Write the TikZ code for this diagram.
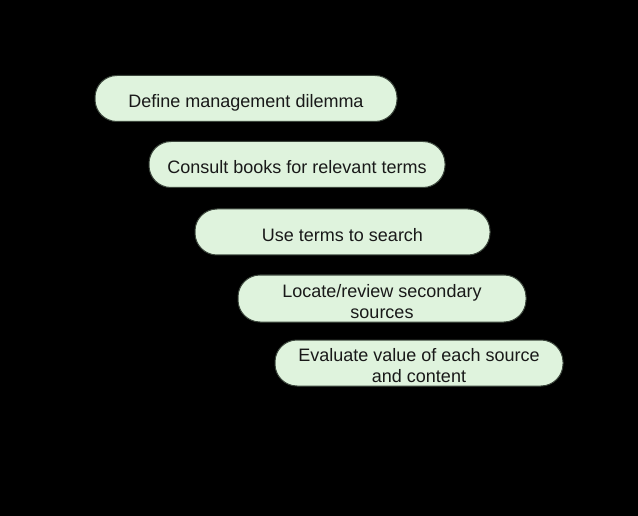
\documentclass[tikz,border=0pt]{standalone}
\usepackage{fontspec}
\setmainfont{Liberation Sans}
\definecolor{boxfill}{RGB}{223,243,221}
\definecolor{boxline}{RGB}{60,70,60}
\definecolor{txt}{RGB}{25,25,25}
\newcommand\boxtxt[1]{\raisebox{-5pt}[\height][\depth]{\begin{tabular}{@{}c@{}}#1\end{tabular}}}
\begin{document}
\begin{tikzpicture}[x=1pt,y=-1pt,
  stepbox/.style={draw=boxline, line width=1pt, fill=boxfill, rounded corners=22pt,
    minimum height=46pt, inner sep=0pt, align=center, text=txt,
    font=\fontsize{18}{21}\selectfont}]
\useasboundingbox[fill=black] (0,0) rectangle (638,516);
\node[stepbox, minimum width=302pt] (s1) at (246,98.5) {\boxtxt{Define management dilemma}};
\node[stepbox, minimum width=296pt] (s2) at (297,164.5) {\boxtxt{Consult books for relevant terms}};
\node[stepbox, minimum width=295pt] (s3) at (342.5,232) {\boxtxt{Use terms to search}};
\node[stepbox, minimum width=288pt, minimum height=47pt] (s4) at (382,298.5) {\boxtxt{Locate/review secondary\\sources}};
\node[stepbox, minimum width=288pt] (s5) at (419,363) {\boxtxt{Evaluate value of each source\\and content}};
\end{tikzpicture}
\end{document}
